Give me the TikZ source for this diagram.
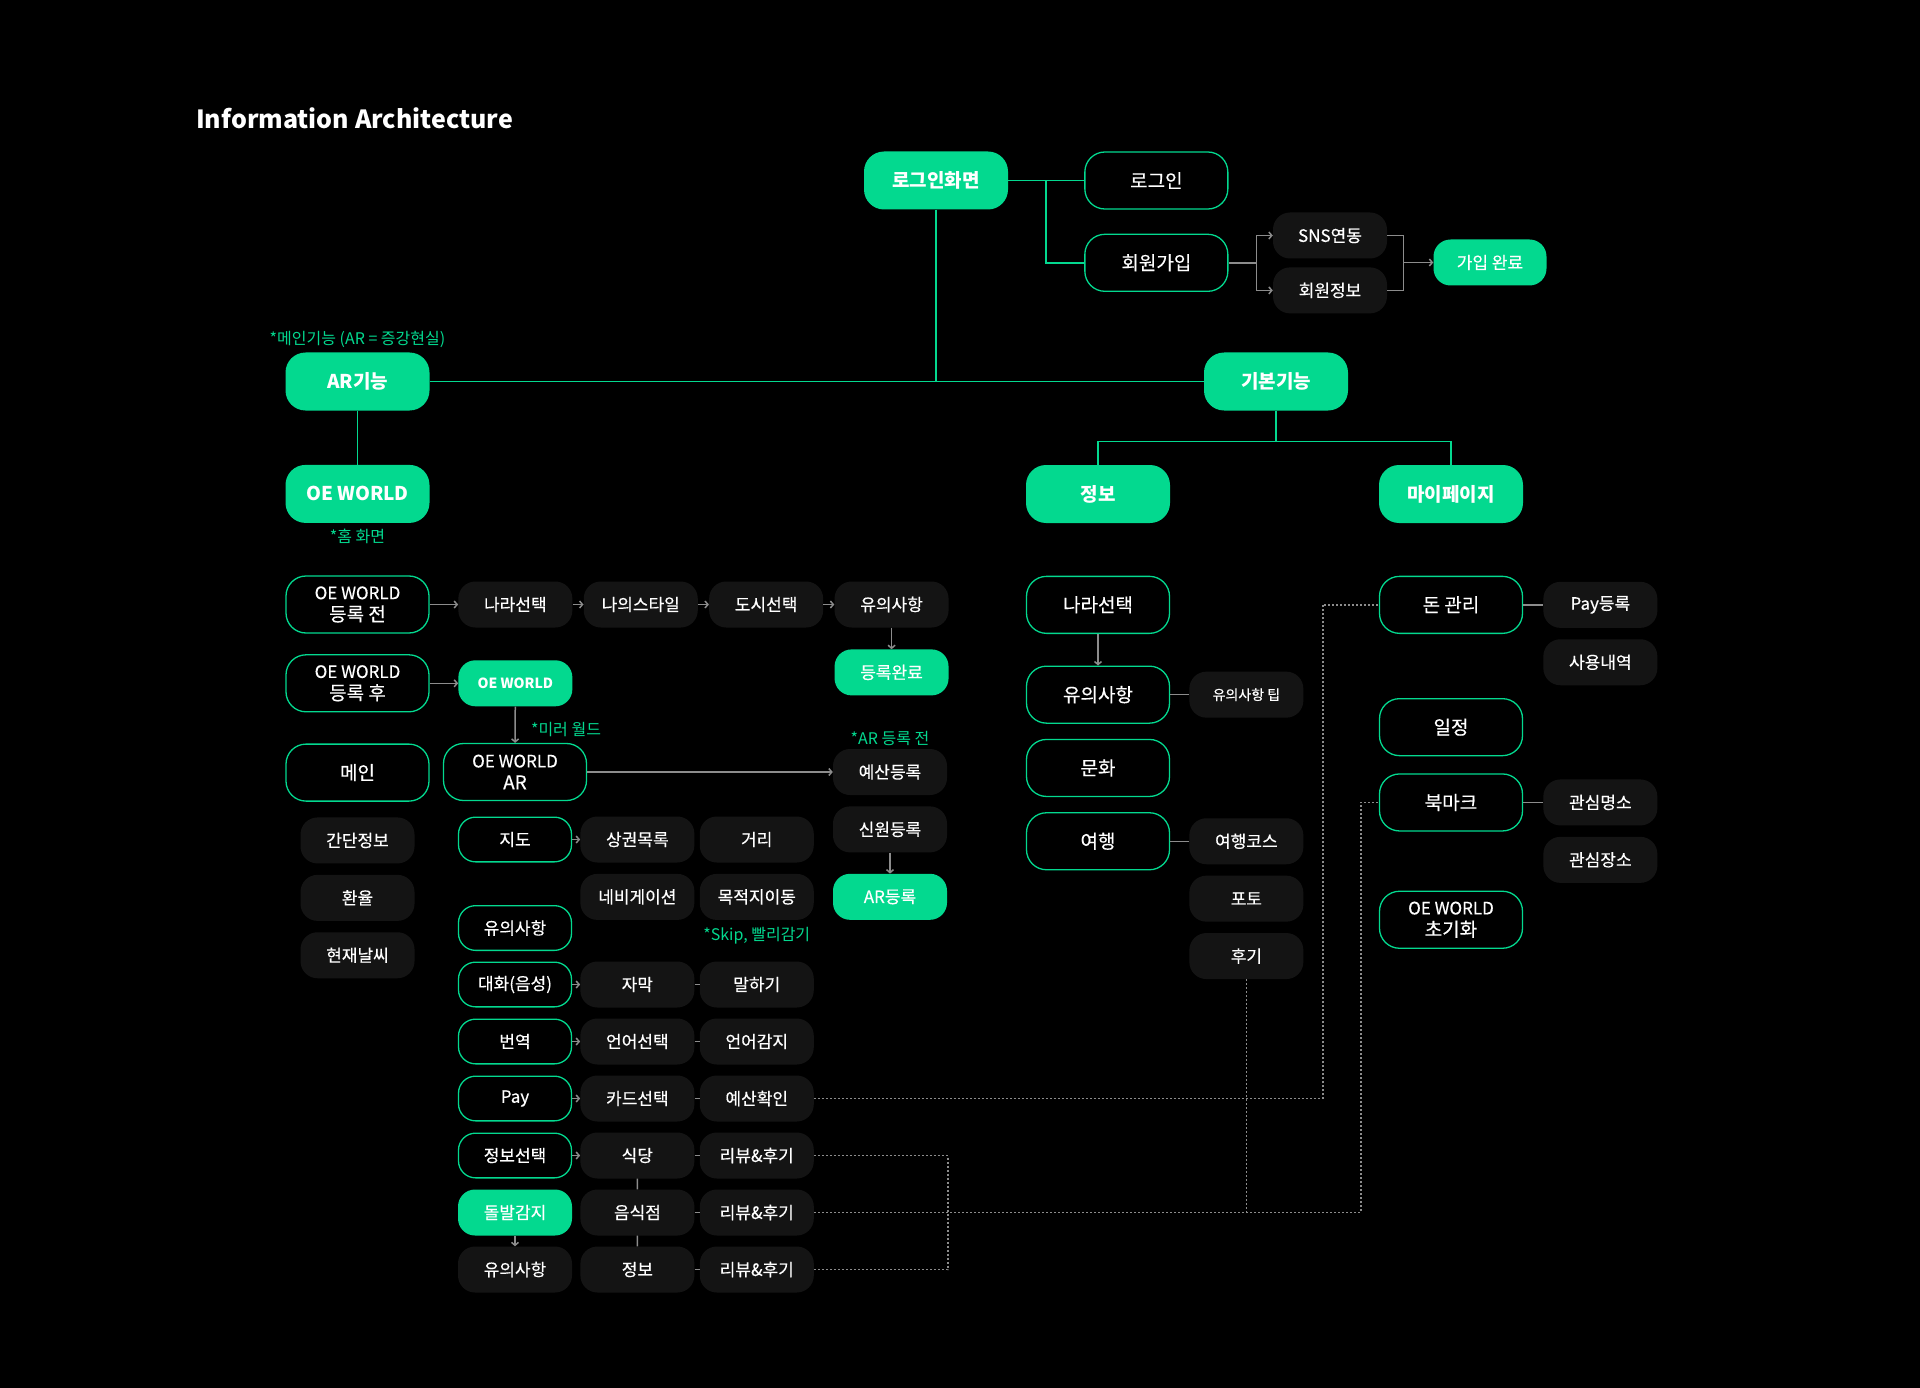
\documentclass[tikz,border=0pt]{standalone}
\usepackage{fontspec}
\setmainfont{Noto Sans CJK KR}
\newfontfamily\medfont{Noto Sans CJK KR}[FakeBold=0.4]
\usetikzlibrary{positioning,arrows.meta,calc}
\definecolor{oegreen}{HTML}{03D98F}
\definecolor{leafgray}{HTML}{141414}
\definecolor{wiregray}{HTML}{8C8C8C}

\begin{document}
\begin{tikzpicture}[x=1pt,y=-1pt,
    hub/.style={fill=oegreen, text=white, rounded corners=20pt, minimum width=144pt, minimum height=58pt, align=center, font=\bfseries\fontsize{19}{22}\selectfont},
    lined/.style={draw=oegreen, line width=1.3pt, text=white, rounded corners=20pt, minimum width=143pt, minimum height=57pt, align=center, font=\medfont\fontsize{19}{22}\selectfont},
    leaf/.style={fill=leafgray, text=white, rounded corners=17pt, minimum width=114pt, minimum height=46pt, align=center, font=\medfont\fontsize{17}{20}\selectfont},
    minor/.style={leaf, fill=none, draw=oegreen, line width=1.3pt, minimum width=113pt, minimum height=44.7pt},
    gleaf/.style={leaf, fill=oegreen},
    note/.style={text=oegreen, font=\fontsize{16}{19}\selectfont},
    tie/.style={draw=oegreen, line width=1.5pt},
    wire/.style={draw=wiregray, line width=1.5pt},
    flow/.style={wire, -{Straight Barb[length=3pt,width=7pt]}},
    dots/.style={draw=wiregray, line width=1.5pt, dash pattern=on 2pt off 2pt},
    node distance=11pt]
  \fill[black] (0,0) rectangle (1920,1388);
  \node[anchor=west, inner sep=0pt, text=white, font=\bfseries\fontsize{25}{30}\selectfont] (title) at (196,118) {Information Architecture};

  % login
  \node[hub] (login) at (936,180.5) {로그인화면};
  \node[lined, right=76pt of login] (signin) {로그인};
  \node[lined, below=24pt of signin] (join) {회원가입};
  \node[leaf] (sns) at (1330,235.5) {SNS연동};
  \node[leaf, below=8.5pt of sns] (member) {회원정보};
  \node[gleaf, minimum width=113pt] (joined) at (1490,262.5) {가입 완료};

  % two main features
  \node[hub] (arfunc) at (357.5,381.5) {AR기능};
  \node[hub] (basic) at (1276,381.5) {기본기능};
  \node[note, above=1pt of arfunc] (mainnote) {*메인기능 (AR = 증강현실)};
  \node[hub, below=54pt of arfunc] (oeworld) {OE WORLD};
  \node[note, below=2pt of oeworld] (homenote) {*홈 화면};
  \node[hub] (infohub) at (1098,494) {정보};
  \node[hub] (mypage) at (1451,494) {마이페이지};

  % OE WORLD
  \node[lined] (before) at (357.5,604.5) {{\fontsize{17}{20}\selectfont OE WORLD}\\등록 전};
  \node[leaf, right=28.5pt of before] (nation) {나라선택};
  \node[leaf, right=of nation] (mystyle) {나의스타일};
  \node[leaf, right=of mystyle] (city) {도시선택};
  \node[leaf, right=of city] (caution) {유의사항};
  \node[gleaf, below=21.5pt of caution] (regdone) {등록완료};
  \node[lined, below=20.5pt of before] (after) {{\fontsize{17}{20}\selectfont OE WORLD}\\등록 후};
  \node[gleaf, right=28.5pt of after, font=\bfseries\fontsize{14}{17}\selectfont] (oesmall) {OE WORLD};
  \node[lined, below=31pt of after] (mainpage) {메인};
  \node[lined] (oear) at (515,772) {{\fontsize{17}{20}\selectfont OE WORLD}\\AR};
  \node[note] (mirrornote) at (566,730) {*미러 월드};
  \node[leaf] (budget) at (890,772) {예산등록};
  \node[note, above=0pt of budget] (arnote) {*AR 등록 전};
  \node[leaf, below=of budget] (identity) {신원등록};
  \node[gleaf, below=21pt of identity] (arreg) {AR등록};
  \node[leaf, below=15.5pt of mainpage] (brief) {간단정보};
  \node[leaf, below=of brief] (rate) {환율};
  \node[leaf, below=of rate] (weather) {현재날씨};
  \node[minor] (mapbox) at (515,839.5) {지도};
  \node[leaf, right=8pt of mapbox] (shops) {상권목록};
  \node[leaf, right=5pt of shops] (distance) {거리};
  \node[leaf, below=of shops] (navi) {네비게이션};
  \node[leaf, below=of distance] (dest) {목적지이동};
  \node[note, below=4pt of dest] (skipnote) {*Skip, 빨리감기};
  \node[minor] (notice) at (515,928) {유의사항};

  \node[minor] (talk) at (515,984.5) {대화(음성)};
  \node[leaf, right=8pt of talk] (caption) {자막};
  \node[leaf, right=5pt of caption] (speak) {말하기};
  \node[minor, below=of talk] (trans) {번역};
  \node[leaf, right=8pt of trans] (langsel) {언어선택};
  \node[leaf, right=5pt of langsel] (langdet) {언어감지};
  \node[minor, below=of trans] (pay) {Pay};
  \node[leaf, right=8pt of pay] (card) {카드선택};
  \node[leaf, right=5pt of card] (budgetchk) {예산확인};
  \node[minor, below=of pay] (infosel) {정보선택};
  \node[leaf, right=8pt of infosel] (rest) {식당};
  \node[leaf, right=5pt of rest] (review1) {리뷰\&후기};
  \node[gleaf, below=10.8pt of infosel] (alert) {돌발감지};
  \node[leaf, right=8pt of alert] (eatery) {음식점};
  \node[leaf, right=5pt of eatery] (review2) {리뷰\&후기};
  \node[leaf, below=10.6pt of alert] (caution2) {유의사항};
  \node[leaf, right=8pt of caution2] (infoleaf) {정보};
  \node[leaf, right=5pt of infoleaf] (review3) {리뷰\&후기};

  % 정보
  \node[lined, below=52.5pt of infohub] (cnation) {나라선택};
  \node[lined, below=31.5pt of cnation] (ccaution) {유의사항};
  \node[leaf, right=19pt of ccaution, font=\medfont\fontsize{14}{17}\selectfont] (tip) {유의사항 팁};
  \node[lined, below=15pt of ccaution] (culture) {문화};
  \node[lined, below=15pt of culture] (travel) {여행};
  \node[leaf, right=19pt of travel] (course) {여행코스};
  \node[leaf, below=of course] (photo) {포토};
  \node[leaf, below=of photo] (review) {후기};

  % 마이페이지
  \node[lined, below=52.5pt of mypage] (money) {돈 관리};
  \node[leaf, right=20pt of money] (payreg) {Pay등록};
  \node[leaf, below=of payreg] (history) {사용내역};
  \node[lined, below=64pt of money] (schedule) {일정};
  \node[lined, below=17pt of schedule] (bookmark) {북마크};
  \node[leaf, right=20pt of bookmark] (spot) {관심명소};
  \node[leaf, below=of spot] (place) {관심장소};
  \node[lined, below=59pt of bookmark] (reset) {{\fontsize{17}{20}\selectfont OE WORLD}\\초기화};

  % green tree
  \coordinate (loginsplit) at ($(login.east)!0.5!(signin.west)$);
  \coordinate (basicsplit) at ($(basic.south)+(0,31)$);
  \draw[tie] (login) -- (signin);
  \draw[tie] (loginsplit) |- (join);
  \draw[tie] (login) -- (login |- arfunc);
  \draw[tie] (arfunc) -- (basic);
  \draw[tie] (arfunc) -- (oeworld);
  \draw[tie] (basic) -- (basicsplit);
  \draw[tie] (infohub) |- (basicsplit) -| (mypage);

  % sign up
  \coordinate (joinsplit) at ($(join.east)+(28,0)$);
  \coordinate (donesplit) at ($(joined.west)+(-30,0)$);
  \draw[wire] (join) -- (joinsplit);
  \draw[flow] (joinsplit) |- (sns);
  \draw[flow] (joinsplit) |- (member);
  \draw[wire] (sns) -| (donesplit) |- (member);
  \draw[flow] (donesplit) -- (joined);

  % gray links
  \draw[flow] (before) -- (nation);
  \draw[flow] (nation) -- (mystyle);
  \draw[flow] (mystyle) -- (city);
  \draw[flow] (city) -- (caution);
  \draw[flow] (caution) -- (regdone);
  \draw[flow] (after) -- (oesmall);
  \draw[flow] (oesmall) -- (oear);
  \draw[flow] (oear) -- (budget);
  \draw[flow] (identity) -- (arreg);
  \draw[flow] (mapbox) -- (shops);
  \draw[flow] (talk) -- (caption);
  \draw[flow] (trans) -- (langsel);
  \draw[flow] (pay) -- (card);
  \draw[flow] (infosel) -- (rest);
  \draw[wire] (caption) -- (speak);
  \draw[wire] (langsel) -- (langdet);
  \draw[wire] (card) -- (budgetchk);
  \draw[wire] (rest) -- (review1);
  \draw[wire] (eatery) -- (review2);
  \draw[wire] (infoleaf) -- (review3);
  \draw[wire] (rest) -- (eatery) -- (infoleaf);
  \draw[flow] (alert) -- (caution2);
  \draw[flow] (cnation) -- (ccaution);
  \draw[wire] (ccaution) -- (tip);
  \draw[wire] (travel) -- (course);
  \draw[wire] (money) -- (payreg);
  \draw[wire] (bookmark) -- (spot);

  % dotted
  \draw[dots] (budgetchk) -| ([xshift=-56pt]money.west) -- (money);
  \draw[dots] (review2) -| ([xshift=-18pt]bookmark.west) -- (bookmark);
  \draw[dots] (review1.east) -- ++(134,0) |- (review3);
  \draw[dots] (review) -- (review |- review2);
\end{tikzpicture}
\end{document}
